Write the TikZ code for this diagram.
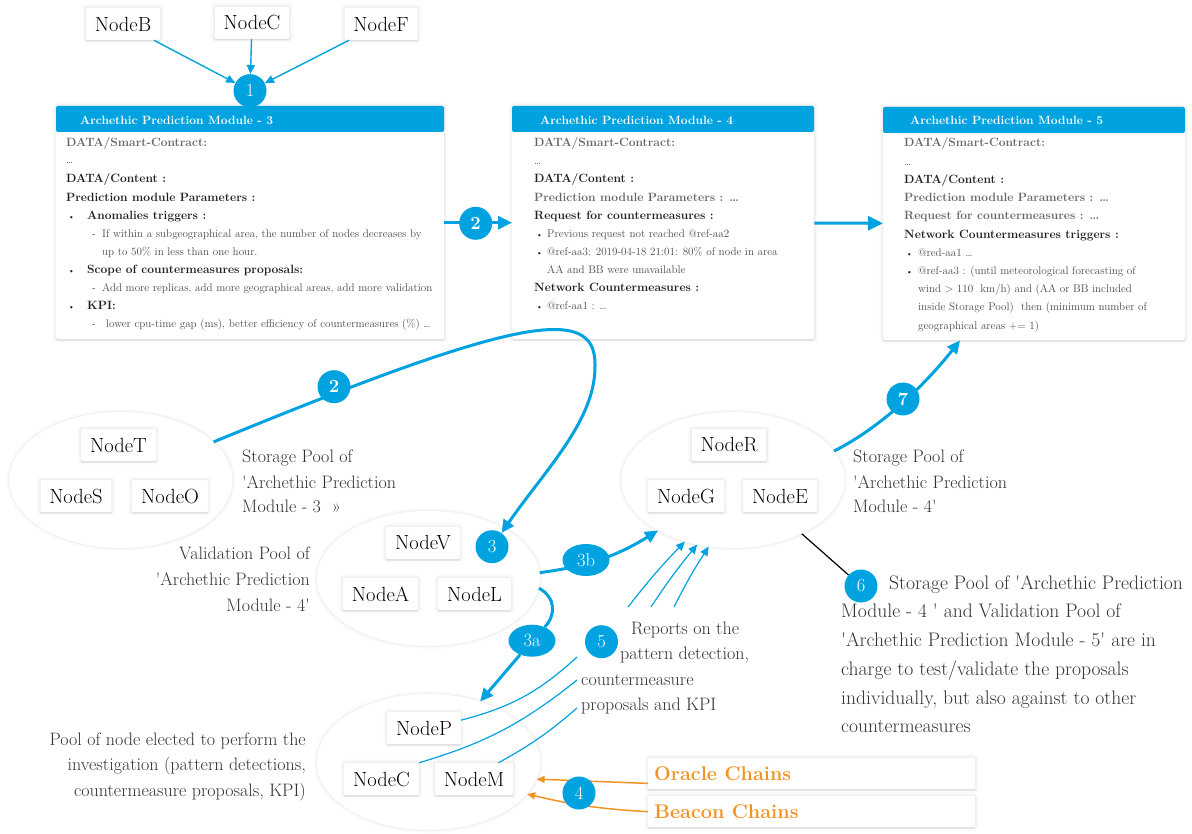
\documentclass[tikz,border=0pt]{standalone}
\usetikzlibrary{shapes.geometric,arrows.meta,shadows,calc}
\definecolor{ablue}{HTML}{00A3E0}
\definecolor{aorange}{HTML}{F39323}
\definecolor{lbl}{HTML}{333333}
\definecolor{gbold}{HTML}{666666}
\definecolor{dbold}{HTML}{1E1E1E}
\definecolor{gsm}{HTML}{4A4A4A}
\newcommand\nodefont{\fontsize{20.5}{24}\selectfont}
\newcommand\lblfont{\fontsize{18}{21}\selectfont}
\newcommand\biglbl{\fontsize{19.6}{23}\selectfont}
\newcommand\boldfnt{\fontsize{12}{14}\selectfont\bfseries}
\newcommand\smallfnt{\fontsize{11.1}{13}\selectfont}
\newcommand\bdgfont{\fontsize{18.5}{20}\selectfont}
\newcommand\chainfont{\fontsize{19.8}{23}\selectfont\bfseries}
\pgfdeclarelayer{back}\pgfdeclarelayer{conn}
\pgfsetlayers{back,conn,main}
\tikzset{
 shd/.style={preaction={draw=black, opacity=0.02, line width=7pt},
             preaction={draw=black, opacity=0.03, line width=3.5pt},
             preaction={draw=black, opacity=0.025, line width=1pt},
             drop shadow={shadow xshift=0pt, shadow yshift=-1.5pt, opacity=0.07, fill=black}},
 nbox/.style={rectangle, fill=white, shd, inner xsep=9pt, inner ysep=0pt, minimum height=32pt, font=\nodefont, text=black, rounded corners=1pt},
 pool/.style={ellipse, fill=white, inner sep=0pt, minimum width=223pt, minimum height=136pt,
             preaction={draw=black, opacity=0.02, line width=6pt},
             preaction={draw=black, opacity=0.035, line width=2.5pt}},
 modbox/.style={rectangle, fill=white, rounded corners=2pt, shd, inner sep=0pt, minimum height=233pt, anchor=north west},
 badge/.style={circle, fill=ablue, text=white, inner sep=0pt, minimum size=33pt, font=\bdgfont},
 ebadge/.style={ellipse, fill=ablue, text=white, inner sep=0pt, minimum width=47pt, minimum height=32pt, font=\bdgfont},
 ln/.style={anchor=base west, inner sep=0pt},
 lnr/.style={anchor=base east, inner sep=0pt},
 gb/.style={ln, font=\boldfnt, text=gbold},
 db/.style={ln, font=\boldfnt, text=dbold},
 sm/.style={ln, font=\smallfnt, text=gsm},
 bul/.style={ln, font=\fontsize{8}{10}\selectfont, text=dbold},
 hd/.style={ln, font=\boldfnt, text=white},
 lb/.style={ln, font=\lblfont, text=lbl},
 lbr/.style={lnr, font=\lblfont, text=lbl},
 lbsix/.style={ln, font=\biglbl, text=lbl},
 thk/.style={draw=ablue, line width=3pt, -{Triangle[length=13pt,width=12pt]}},
 thn/.style={draw=ablue, line width=1.4pt, -{Triangle[length=9pt,width=8pt]}},
 thl/.style={draw=ablue, line width=1.2pt},
 ora/.style={draw=aorange, line width=1.5pt, -{Triangle[length=8pt,width=7pt]}},
 chain/.style={rectangle, fill=white, shd, anchor=north west, inner sep=0pt, minimum width=327pt, minimum height=31pt, rounded corners=1pt},
}
\begin{document}
\begin{tikzpicture}[x=1pt,y=-1pt]
\useasboundingbox (0,0) rectangle (1192,834);
\begin{pgfonlayer}{back}
\fill[white] (0,0) rectangle (1192,834);
% top nodes
\node[nbox] (nB) at (123,24) {NodeB};
\node[nbox] (nC) at (252,23) {NodeC};
\node[nbox] (nF) at (381,24) {NodeF};
% module boxes
\node[modbox, minimum width=388pt] (m3) at (56,106) {};
\node[modbox, minimum width=302pt] (m4) at (512,106) {};
\node[modbox, minimum width=302pt] (m5) at (883,107) {};
\fill[ablue, rounded corners=2pt] (m3.north west) rectangle ++(388,26);
\fill[ablue, rounded corners=2pt] (m4.north west) rectangle ++(302,26);
\fill[ablue, rounded corners=2pt] (m5.north west) rectangle ++(302,26);
% pools
\node[pool] (pT) at (121,480) {};
\node[pool, minimum height=135pt] (pV) at (428.5,578.5) {};
\node[pool] (pR) at (733,480) {};
\node[pool] (pP) at (428.5,762) {};
\node[nbox] (nT) at (118.5,445) {NodeT};
\node[nbox] (nS) at (76,496) {NodeS};
\node[nbox] (nO) at (170,496) {NodeO};
\node[nbox] (nV) at (423,543) {NodeV};
\node[nbox] (nA) at (380.5,594) {NodeA};
\node[nbox] (nL) at (474.5,594) {NodeL};
\node[nbox] (nR) at (729,445) {NodeR};
\node[nbox] (nG) at (686,496) {NodeG};
\node[nbox] (nE) at (780,496) {NodeE};
\node[nbox] (nP) at (424,728) {NodeP};
\node[nbox] (nC2) at (381.5,779) {NodeC};
\node[nbox] (nM) at (474,779) {NodeM};
% chains
\node[chain] (oc) at (648,758) {};
\node[chain] (bc) at (648,796) {};
\end{pgfonlayer}

% badges
\node[badge] (b1) at (250,90.7) {1};
\node[badge, font=\bdgfont\bfseries] (b2a) at (475.7,223.3) {2};
\node[badge, font=\bdgfont\bfseries] (b2b) at (334,386.7) {2};
\node[badge] (b3) at (492,546.7) {3};
\node[ebadge] (b3b) at (586,560) {3b};
\node[ebadge] (b3a) at (532,640.7) {3a};
\node[badge] (b4) at (579,793) {4};
\node[badge] (b5) at (601.5,641.7) {5};
\node[badge] (b6) at (861,586) {6};
\node[badge, font=\bdgfont\bfseries] (b7) at (903,399) {7};

% connectors
\begin{pgfonlayer}{conn}
\draw[thn] (nB) -- (b1);
\draw[thn] (nC) -- (b1);
\draw[thn] (nF) -- (b1);
\draw[thk, -{Triangle[length=14pt,width=13pt]}] (m3) -- (m4);
\draw[thk, -{Triangle[length=15pt,width=14pt]}] (m4) -- (m5);
\coordinate (cB) at (595,365);
\draw[thk] (pT) .. controls (510,320) and (596,302) .. (cB) .. controls (596,420) and (545,470) .. (b3);
\draw[thk] (pV.3) to[bend right=12] (pR.214);
\draw[thk] (pV.-5) .. controls (556,598) and (556,615) .. (b3a) -- (pP);
\coordinate (c7) at ($(m5.south west)+(77,0)$);
\draw[thk] (pR.16) .. controls (880,428) and (925,385) .. (c7);
\draw[black, line width=1.2pt] (pR.-38) -- (b6);
\coordinate (r1) at (577,657);
\coordinate (r2) at (577,680);
\coordinate (r3) at (577,708);
\draw[thl] (nP.12) to[bend right=14] (r1);
\draw[thl] (nC2.north east) to[bend right=11] (r2);
\draw[thl] ($(nM.north east)+(-15,0)$) to[bend right=6] (r3);
\coordinate (s1) at (628,607);
\coordinate (s2) at (651,607);
\coordinate (s3) at (674,607);
\draw[thn, line width=1.2pt] (s1) to[bend left=3] (pR.232);
\draw[thn, line width=1.2pt] (s2) to[bend left=3] (pR.241);
\draw[thn, line width=1.2pt] (s3) to[bend left=3] (pR.250);
\draw[ora] ($(oc.south west)+(0,-6)$) -- (pP.-9.5);
\draw[ora] (bc.west) to[bend left=5] (pP.-18.6);
\end{pgfonlayer}

% chain labels
\node[ln, font=\chainfont, text=aorange] (oct) at (654,780) {Oracle Chains};
\node[ln, font=\chainfont, text=aorange] (bct) at (654,818) {Beacon Chains};

% module 3 text
\node[hd] (h3) at (80,124.5) {Archethic Prediction Module - 3};
\node[gb] (a1) at (66,147) {DATA/Smart-Contract:};
\node[sm] (a2) at (66,164) {\ldots};
\node[db] (a3) at (66,183) {DATA/Content :};
\node[db] (a4) at (66,202) {Prediction module Parameters :};
\node[bul] (a5b) at (68,220) {\textbullet};
\node[db] (a5) at (87,220) {Anomalies triggers :};
\node[sm] (a6d) at (92,238) {-};
\node[sm] (a6) at (102,238) {If within a subgeographical area, the number of nodes decreases by};
\node[sm] (a7) at (102,256) {up to 50\% in less than one hour.};
\node[bul] (a8b) at (68,274) {\textbullet};
\node[db] (a8) at (87,274) {Scope of countermeasures proposals:};
\node[sm] (a9d) at (92,292) {-};
\node[sm] (a9) at (102,292) {Add more replicas, add more geographical areas, add more validation};
\node[bul] (a10b) at (68,310) {\textbullet};
\node[db] (a10) at (87,310) {KPI:};
\node[sm] (a11d) at (92,328) {-};
\node[sm] (a11) at (106,328) {lower cpu-time gap (ms), better efficiency of countermeasures (\%) \ldots};

% module 4 text
\node[hd] (h4) at (540,124.5) {Archethic Prediction Module - 4};
\node[gb] (c1) at (534,147) {DATA/Smart-Contract:};
\node[sm] (c2) at (534,165) {\ldots};
\node[db] (c3) at (534,183) {DATA/Content :};
\node[gb] (c4) at (534,202) {Prediction module Parameters : \ldots};
\node[db] (c5) at (534,220) {Request for countermeasures :};
\node[bul] (c6b) at (536,238) {\textbullet};
\node[sm] (c6) at (547,238) {Previous request not reached @ref-aa2};
\node[bul] (c7b) at (536,256) {\textbullet};
\node[sm] (c7t) at (547,256) {@ref-aa3: 2019-04-18 21:01: 80\% of node in area};
\node[sm] (c8) at (547,274) {AA and BB were unavailable};
\node[db] (c9) at (534,292) {Network Countermeasures :};
\node[bul] (c10b) at (536,310) {\textbullet};
\node[sm] (c10) at (547,310) {@ref-aa1 : \ldots};

% module 5 text
\node[hd] (h5) at (910,125) {Archethic Prediction Module - 5};
\node[gb] (d1) at (904,147) {DATA/Smart-Contract:};
\node[sm] (d2) at (904,166) {\ldots};
\node[db] (d3) at (904,184) {DATA/Content :};
\node[gb] (d4) at (904,202) {Prediction module Parameters : \ldots};
\node[gb] (d5) at (904,220) {Request for countermeasures : \ldots};
\node[db] (d6) at (904,238.5) {Network Countermeasures triggers :};
\node[bul] (d7b) at (906,257) {\textbullet};
\node[sm] (d7) at (918,257) {@red-aa1 \ldots};
\node[bul] (d8b) at (906,274.5) {\textbullet};
\node[sm] (d8) at (918,274.5) {@ref-aa3 : (until meteorological forecasting of};
\node[sm] (d9) at (918,293) {wind $>$ 110\ \ km/h) and (AA or BB included};
\node[sm] (d10) at (918,311) {inside Storage Pool)\ \ then (minimum number of};
\node[sm] (d11) at (918,329.5) {geographical areas += 1)};

% pool labels
\node[lb] (t1) at (242,462) {Storage Pool of};
\node[lb] (t2) at (242,488) {\textquotesingle Archethic Prediction};
\node[lb] (t3) at (242,512) {Module - 3\ \ »};
\node[lbr] (v1) at (310,559) {Validation Pool of};
\node[lbr] (v2) at (310,585) {\textquotesingle Archethic Prediction};
\node[lbr] (v3) at (310,611) {Module - 4\textquotesingle};
\node[lb] (r1t) at (853,462) {Storage Pool of};
\node[lb] (r2t) at (853,488) {\textquotesingle Archethic Prediction};
\node[lb] (r3t) at (853,512) {Module - 4\textquotesingle};
\node[lbr] (p1) at (306,745) {Pool of node elected to perform the};
\node[lbr] (p2) at (306,770.5) {investigation (pattern detections,};
\node[lbr] (p3) at (306,796) {countermeasure proposals, KPI)};
\node[lb] (f1) at (631,634) {Reports on the};
\node[lb] (f2) at (620,659.5) {pattern detection,};
\node[lb] (f3) at (581,685) {countermeasure};
\node[lb] (f4) at (581,710.5) {proposals and KPI};
\node[lbsix] (g1) at (889,589) {Storage Pool of \textquotesingle Archethic Prediction};
\node[lbsix] (g2) at (841,617) {Module - 4 \textquotesingle{} and Validation Pool of};
\node[lbsix] (g3) at (841,646) {\textquotesingle Archethic Prediction Module - 5\textquotesingle{} are in};
\node[lbsix] (g4) at (841,675) {charge to test/validate the proposals};
\node[lbsix] (g5) at (841,704) {individually, but also against to other};
\node[lbsix] (g6) at (841,732.5) {countermeasures};
\end{tikzpicture}
\end{document}
